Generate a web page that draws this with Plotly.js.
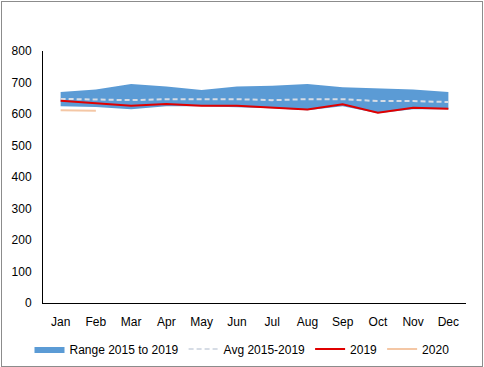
<!DOCTYPE html>
<html><head><meta charset="utf-8">
<script src="https://cdn.plot.ly/plotly-3.0.1.min.js"></script>
<style>body{margin:0;padding:0;background:#fff}#wrap{position:relative;width:484px;height:367px}#chart{width:484px;height:367px}#border{position:absolute;left:1px;top:1px;width:480px;height:364px;border:1px solid #8c8c8c;pointer-events:none}</style>
</head><body>
<div id="wrap"><div id="chart"></div><div id="border"></div></div>
<script>
const months = ["Jan","Feb","Mar","Apr","May","Jun","Jul","Aug","Sep","Oct","Nov","Dec"];
const rangeLow = [625,622,615,625,625,622,618,612,625,602,615,615];
const rangeHigh = [670,678,695,687,676,687,690,695,685,682,678,670];
const avg = [648,645,644,647,648,647,644,647,647,641,641,638];
const y2019 = [642,633,626,632,626,626,620,614,631,604,620,617];
const months2020 = ["Jan","Feb"];
const y2020 = [612,610];

const traces = [
  {x: months, y: rangeLow, type:'scatter', mode:'lines', line:{width:0, color:'#5B9BD5'}, showlegend:false, hoverinfo:'skip'},
  {x: months, y: rangeHigh, type:'scatter', mode:'lines', fill:'tonexty', fillcolor:'#5B9BD5', line:{width:0, color:'#5B9BD5'}, name:'Range 2015 to 2019'},
  {x: months, y: avg, type:'scatter', mode:'lines', line:{width:2, color:'#D6DCE5', dash:'5px,3px'}, name:'Avg 2015-2019'},
  {x: months, y: y2019, type:'scatter', mode:'lines', line:{width:2, color:'#E00000'}, name:'2019'},
  {x: months2020, y: y2020, type:'scatter', mode:'lines', line:{width:2, color:'#F4C7A5'}, name:'2020'}
];

const layout = {
  width:484, height:367,
  margin:{l:43, r:18, t:51, b:64},
  paper_bgcolor:'#fff', plot_bgcolor:'#fff',
  font:{family:'Liberation Sans, Arial, sans-serif', size:12, color:'#000'},
  xaxis:{type:'category', categoryorder:'array', categoryarray:months, range:[-0.5,11.5], showgrid:false, showline:true, linecolor:'#000', linewidth:1, ticks:'', zeroline:false, ticklabelstandoff:8, automargin:false},
  yaxis:{range:[0,800], dtick:100, showgrid:false, showline:true, linecolor:'#000', linewidth:1, ticks:'', zeroline:false, ticklabelstandoff:8, automargin:false},
  legend:{orientation:'h', x:0.5, xref:'container', xanchor:'center', y:0.049, yref:'container', yanchor:'middle', font:{size:12}, traceorder:'normal'},
  showlegend:true
};
Plotly.newPlot('chart', traces, layout, {displayModeBar:false, staticPlot:true});
</script>
</body></html>
